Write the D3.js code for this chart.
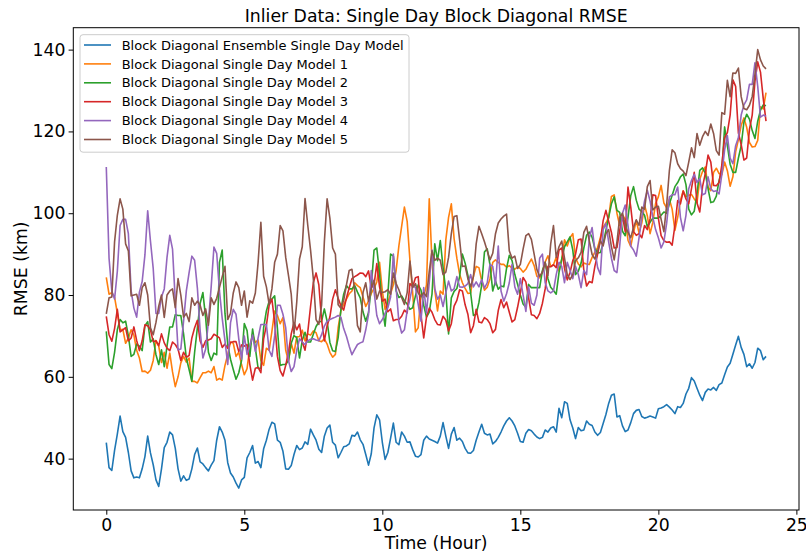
<!DOCTYPE html>
<html>
<head>
<meta charset="utf-8">
<script src="https://cdn.jsdelivr.net/npm/d3@7/dist/d3.min.js"></script>
<style>
  body { margin: 0; background: #fff; }
  svg { display: block; font-family: "DejaVu Sans", sans-serif; }
</style>
</head>
<body>
<div id="chart"></div>
<script>
// one reading every 0.1 hour, 0.0 .. 23.9
const hours = d3.range(240).map(i => i / 10);

const ensemble = [
  43.9, 37.8, 37.1, 42, 46.0, 50.4, 46.6, 45.2, 41.5, 37,
  35.3, 35.5, 35.3, 37.5, 40.5, 45.5, 41.4, 38.5, 34.8, 33.2,
  37.5, 42.7, 44, 46.5, 45.8, 42.5, 37.5, 34.5, 35.8, 34.7,
  35, 37.5, 41, 42.6, 39.2, 38.7, 37.8, 37, 38.4, 39.5,
  44.5, 47.8, 46.5, 44.5, 39, 36.5, 35.5, 34, 32.8, 34.8,
  35.4, 40.2, 41.5, 43.2, 38.9, 39.3, 37.8, 42.4, 44.5, 47.2,
  48.9, 48.5, 44.5, 44, 41.8, 37.5, 37.4, 38.3, 41, 43.2,
  42.2, 42.6, 44.1, 43.5, 47.2, 45.8, 44.5, 42.3, 41.5, 45.5,
  47.5, 48.2, 44, 43.3, 40.2, 41.5, 42.9, 43.1, 43.6, 45.7,
  45.5, 46.5, 44.6, 43.5, 41, 38.4, 41.2, 47.5, 50.7, 49.5,
  44, 39.8, 41.5, 45, 48.7, 44, 43.4, 46.5, 45.5, 44,
  44.1, 42.2, 40.6, 40.4, 41, 44.5, 45.5, 44.8, 44.5, 44.2,
  43.8, 45.5, 48.8, 45.5, 42.5, 46, 47.6, 44.5, 45, 44.2,
  42.5, 41.4, 41.3, 42, 44.5, 46.5, 48.4, 46.2, 45.8, 46,
  43.6, 44.2, 45.2, 46.5, 48, 49.2, 50, 49.2, 48, 46.2,
  44.2, 44, 46.2, 47.1, 46.8, 46, 45.3, 44.9, 45.2, 47,
  46.5, 47.5, 47.8, 46.5, 52.3, 50, 53.9, 53.5, 49.5, 47.5,
  44.9, 47.6, 46.8, 47, 49.2, 48.4, 48.1, 46.5, 45.7, 46.4,
  48.6, 50.8, 53.5, 55.5, 55.8, 50.2, 50.5, 48, 46.6, 47,
  48.8, 51, 51.8, 52, 50.3, 49.9, 50.1, 50.4, 50.2, 49.9,
  52.2, 52.4, 52.7, 53.2, 52.6, 51.9, 51, 52.7, 52.5, 53.5,
  55.8, 57.2, 59.8, 59, 57.2, 55.5, 54.2, 56.2, 57, 56.8,
  57.4, 56.7, 58.1, 58.5, 60.5, 62.4, 63.3, 65.5, 67.8, 69.9,
  67.2, 65.5, 62.5, 63.2, 62.1, 63.5, 67, 66.4, 64.2, 65
];

const model1 = [
  84.3, 80.2, 80.6, 79.5, 75.6, 71.5, 71.6, 68.2, 69.5, 71.5,
  70.2, 66.5, 64.6, 61.3, 61.4, 60.9, 61.6, 64, 68.9, 67.5,
  63.5, 66, 62.1, 65.8, 61.2, 57.6, 60, 63.4, 65, 63.6,
  64.6, 58.9, 58.9, 58.5, 59.8, 61, 61, 61.4, 61, 62.5,
  59.2, 59.6, 59.2, 62.8, 65.5, 68.5, 68.2, 65, 66, 63,
  60.5, 62, 67.3, 70.4, 68.4, 69, 64, 62.8, 67, 66.5,
  71.1, 76.1, 75, 73, 74.5, 66.5, 63.8, 68.2, 65.8, 69.8,
  69.8, 71.4, 68.8, 70.5, 70.2, 71.2, 70.8, 68.8, 68.6, 69.3,
  68, 66, 64.8, 65.5, 72, 76.2, 77.7, 79, 80.3, 81,
  83, 82.3, 81.8, 79.5, 77.2, 78.5, 80.4, 81.6, 83.2, 88,
  81, 76.5, 78.2, 80.3, 82.5, 86, 92, 96.8, 101.5, 98,
  88.5, 80.5, 71, 72, 80.2, 79.5, 82.5, 103.5, 88, 81.2,
  76.1, 81, 80.2, 93.5, 99, 102.3, 93.8, 89, 85.1, 83,
  81.6, 80.4, 80.5, 84.6, 87, 86.7, 83.5, 81.2, 81.9, 84,
  88, 88.6, 88, 87.5, 87.5, 86.8, 87.2, 86.6, 86.3, 86.9,
  86.5, 85.6, 86.3, 87.6, 88.8, 87.2, 84.6, 84.2, 85.6, 88.1,
  89.6, 87, 87.4, 89.2, 85.9, 88.7, 93.5, 92, 94, 95,
  89, 87.6, 86.9, 87.8, 87.6, 87.5, 89.2, 90.5, 91.6, 94.1,
  96.6, 97.6, 99, 104.1, 104.5, 100, 97, 99.6, 98.5, 93.4,
  91.9, 95.3, 98.2, 95.2, 97.6, 102, 99.4, 95, 97.8, 102.4,
  104, 106.8, 102.5, 101.3, 103.4, 101, 95.8, 99, 103.1, 105.5,
  104, 104.4, 104.6, 103.5, 102.6, 108.3, 110.2, 111.3, 106.4, 105.5,
  110, 111, 109.7, 109.4, 112.5, 110.4, 106.6, 108.9, 115, 118,
  121.5, 123.3, 121, 117.3, 116.2, 116.3, 117.8, 126, 125.5, 129.5
];

const model2 = [
  71.1, 63, 62, 66, 71.5, 74, 73.2, 73.6, 70, 65,
  65.5, 68, 67.5, 66.4, 72.5, 73.5, 68.5, 69.3, 65.4, 63,
  66.6, 62.5, 67.5, 72.2, 72.2, 75.2, 75, 75, 70.5, 64.6,
  61.8, 58.9, 66, 72, 78, 80.6, 74.4, 66, 64, 65.8,
  65.4, 88, 91, 75.5, 67.9, 64.3, 61.8, 59.4, 61, 64,
  73, 71.3, 65, 71.7, 67, 62.1, 62.1, 72, 76.1, 78.5,
  79, 79.8, 71.8, 62.8, 63, 63, 64, 68.2, 70.1, 69.6,
  64.6, 69, 70.9, 68.5, 68.5, 70.4, 72.3, 73.4, 73.6, 76.6,
  73.6, 68.4, 66.4, 66.2, 69.6, 76.5, 80.2, 82.3, 81.5, 81.5,
  82.3, 80.7, 79.3, 75.9, 73.6, 75.7, 82, 91, 91.5, 85.2,
  77, 72.4, 80, 90, 89.5, 81, 79.4, 79.8, 78.6, 77.8,
  76.5, 76.9, 79.8, 82.5, 81.2, 77.5, 74.6, 75.8, 80.2, 92.5,
  88.4, 93.3, 86.8, 81, 70.5, 79.3, 80.9, 81.6, 84.5, 90,
  87.8, 84.8, 80.5, 75, 75.3, 78.2, 82.5, 90.5, 91.3, 87.4,
  81, 83.4, 81.4, 82.2, 82, 86.5, 89.7, 88.4, 85, 82.6,
  80, 77.8, 77, 82.6, 81.8, 81.8, 81.8, 81.8, 86, 88,
  84, 81.9, 81.1, 80.2, 85.5, 88.8, 91.8, 93, 94.2, 91,
  85, 85.8, 87.8, 91.5, 94.6, 95.4, 94.1, 91.3, 90.3, 90.4,
  92.6, 95.8, 99, 102.3, 104, 100.7, 100.2, 95.6, 94.5, 99,
  104.3, 106.5, 103.2, 101, 100.4, 99.5, 96.7, 97.8, 98.8, 98.8,
  98.8, 99.5, 100.3, 100, 102.3, 104.4, 106.5, 107.5, 108.9, 109.6,
  107, 101, 99.6, 100.5, 104.8, 110.5, 111.1, 109.8, 106, 102.6,
  102.8, 104.2, 108, 110.3, 121.1, 116.5, 112, 110, 110, 113.5,
  116.5, 122.3, 124.2, 123, 120.2, 118.3, 122.5, 125.2, 126.5, 126.3
];

const model3 = [
  74.8, 70.3, 68.7, 71.8, 76.5, 71, 71.5, 72, 68.8, 69.5,
  72.2, 68.9, 66.4, 68.8, 72.7, 72.5, 71.5, 68.6, 68.8, 67.6,
  70.5, 68.3, 67, 66.4, 68.5, 67.9, 66.8, 64, 66, 64.8,
  65.2, 69.5, 72, 73.8, 68.8, 67.2, 68.8, 69, 69.3, 70.4,
  70, 69.5, 67.2, 68, 67, 68.4, 68.6, 68.6, 66.2, 67.8,
  67.5, 67.9, 63, 59.2, 62.1, 62.3, 61, 69.3, 72.6, 77.5,
  79, 73.4, 65, 61.5, 60.2, 62.8, 66, 70.5, 73.3, 71.5,
  72.9, 68.5, 66.5, 71, 77.2, 83, 85.4, 82.5, 73.8, 68.8,
  72.5, 74.6, 79, 81.3, 79.2, 77.4, 76.3, 79.3, 81.7, 84,
  84.5, 84.9, 85.4, 85.3, 84.5, 85.9, 81.8, 82.5, 87.7, 82,
  78.5, 79, 75.9, 76.6, 73.7, 74, 74, 74.8, 76.3, 75.6,
  82.8, 82, 84.2, 84.5, 75.2, 69.5, 74.6, 76.8, 75.8, 74,
  72.8, 72.7, 74.8, 73.9, 71.2, 73, 77.3, 78.7, 81.3, 81,
  77.6, 75.3, 70.8, 72.5, 76.5, 73.4, 73.2, 74.5, 74, 73,
  70.8, 71.6, 76.2, 78.9, 76.9, 78.3, 75.8, 73.4, 74, 77,
  80.5, 84.3, 83.2, 79.3, 75.2, 75, 74.2, 75.5, 78, 81.5,
  87, 86.9, 87.4, 86.7, 91, 91.5, 86.5, 83.7, 85.5, 88.4,
  90, 93.5, 93.7, 86, 82.2, 83.3, 83, 87, 90, 93.3,
  98.2, 100.7, 98, 95.3, 91.5, 91.6, 95.8, 99.3, 95.5, 106.4,
  101.5, 95.5, 94.6, 95, 94, 97, 96, 98.6, 104.5, 104.3,
  98.8, 94.5, 93.3, 92.9, 93, 92.2, 97, 103.1, 102.3, 105.4,
  103.5, 102.3, 106, 110, 102.5, 100.3, 106.5, 109.7, 114.2, 112.5,
  106.8, 106.7, 107.5, 111.8, 118.5, 119.7, 124, 132.6, 131, 119.6,
  116.8, 113, 113.5, 120.5, 124, 132.3, 137, 134.5, 128, 122.5
];

const model4 = [
  111.3, 89, 81, 79, 85.8, 97, 98.5, 98.5, 95, 81,
  76.8, 74.6, 80.7, 83.3, 89.8, 100.6, 93.2, 86.5, 75.5, 75.5,
  79.5, 81.5, 89.2, 94.6, 91.2, 78.5, 66.6, 66.8, 73.6, 81,
  85.5, 89.5, 88.5, 81.7, 71.3, 64.6, 66.8, 73.5, 82, 91.7,
  90.2, 81, 74.3, 68.8, 63, 73.2, 76.5, 75.3, 69.3, 64.3,
  70, 65.5, 67.5, 70.2, 66.2, 69.5, 72.8, 72.8, 72.8, 66.5,
  65, 70, 77.5, 77.5, 75.3, 72, 64, 61.3, 62.5, 66.5,
  69.3, 68.5, 67.9, 68.8, 69.2, 69.3, 69, 68.8, 70.3, 72.4,
  73.6, 74, 74.3, 74.6, 75, 74.6, 71.8, 69.9, 67.5, 65.4,
  66.7, 67.9, 68.3, 68.6, 71.5, 75.2, 86, 81, 75, 73,
  74, 75.5, 76.9, 79.5, 90, 81.8, 73.4, 70.7, 71.5, 76.2,
  79, 82.4, 81.8, 77.7, 73.6, 81.8, 75.6, 83, 91, 81.6,
  79, 80, 77.2, 80.6, 83.4, 81, 81.5, 84.5, 82, 81.9,
  82.2, 82.8, 85, 82, 83.2, 82, 83.8, 81.7, 83, 87.5,
  87, 82.5, 92, 81, 78.5, 80.3, 83, 87.5, 82, 80.2,
  84, 80, 76, 82, 78, 77.5, 80, 89, 90, 83,
  81, 80.5, 81, 85, 88, 87, 83, 88, 86, 84,
  87, 85, 81.8, 86, 85, 94, 96.5, 91, 86.7, 85,
  96, 97.5, 93, 89, 86, 85.5, 92, 100, 102, 97,
  92, 91, 89.5, 94, 99, 103, 105.6, 103, 99, 96,
  94, 91.5, 93, 97.5, 104, 104.5, 104.5, 106.4, 99, 95.7,
  99.5, 106, 108, 109.5, 107.5, 108.5, 104.5, 104.8, 108.9, 106,
  105.3, 105.5, 104.7, 109.5, 115.5, 119, 113.5, 112.1, 116.5, 118.5,
  124, 126.5, 127.7, 131.5, 131.5, 136.8, 131, 123.5, 124, 123.7
];

const model5 = [
  75.4, 79.3, 79.5, 93, 99.5, 103.5, 101, 92.5, 90.8, 79.8,
  80, 80.2, 77.5, 81.8, 83, 80, 72, 70.3, 73.3, 77.3,
  80, 74.5, 80, 81, 81.5, 76.9, 84, 80, 74.6, 75.5,
  73.5, 79.3, 77.5, 78.5, 77.5, 75, 76.6, 72.6, 79.3, 77.7,
  79.2, 81.8, 84.5, 87, 74, 75.5, 80.5, 83.2, 81.8, 77.5,
  81, 74.6, 78.6, 78, 80.5, 88, 97.8, 84.6, 82, 77.7,
  81.5, 88, 90, 97, 95.7, 89.2, 84.8, 80.2, 70.5, 78.3,
  88.8, 91.8, 103.6, 97, 91, 84, 74, 72.8, 77.5, 93,
  103.5, 98.8, 91.5, 90, 77.6, 76.8, 78.7, 82.5, 86, 86.3,
  81, 72.5, 71, 80.6, 83, 78.5, 81.6, 83.6, 79, 81,
  80.6, 80.8, 81.3, 80.2, 85.4, 82.8, 81.3, 79.4, 77.7, 80.6,
  88.3, 81.8, 82.8, 80.5, 79.6, 80.6, 79.6, 85.8, 90.8, 88.5,
  89, 88.5, 85, 85.6, 89.2, 95, 99.2, 99.4, 93.5, 87,
  87.1, 84, 82, 84.5, 92.5, 96.8, 95, 93, 90.8, 88.6,
  90.2, 95, 97.6, 98.6, 99.3, 99.8, 90.8, 89, 89.5, 86.5,
  87.5, 91.2, 94.5, 95, 93.6, 90, 86.2, 84.6, 85.6, 88,
  84.8, 92.5, 97, 89.2, 91.8, 93.2, 89, 85, 83.8, 85,
  88.4, 89.1, 90.4, 95.3, 96.8, 93.2, 89.9, 88.8, 90.8, 93.3,
  92, 95, 96, 91.8, 88.6, 93, 99, 100, 97, 95.3,
  94, 96.5, 98.4, 97, 101.5, 101, 106.5, 108, 100.8, 101.5,
  101.7, 98.5, 95.5, 102, 110.5, 115.5, 114.8, 112.1, 110.9, 110.3,
  109.2, 112.5, 116, 113.6, 119.5, 116.6, 118.7, 120, 119, 121.8,
  119.5, 115.3, 114.2, 124.6, 124.2, 132.5, 128.5, 134.3, 134.2, 135.5,
  128.5, 125.6, 125.3, 126.4, 128.5, 134, 140, 137.5, 136, 135.3
];

const seriesNames = [
  "Block Diagonal Ensemble Single Day Model",
  "Block Diagonal Single Day Model 1",
  "Block Diagonal Single Day Model 2",
  "Block Diagonal Single Day Model 3",
  "Block Diagonal Single Day Model 4",
  "Block Diagonal Single Day Model 5"
];
const seriesValues = [ensemble, model1, model2, model3, model4, model5];
const colors = ["#1f77b4", "#ff7f0e", "#2ca02c", "#d62728", "#9467bd", "#8c564b"];

const xTicks = [0, 5, 10, 15, 20, 25];
const yTicks = [40, 60, 80, 100, 120, 140];

const width = 806, height = 554;
const margin = { top: 27.7, right: 7, bottom: 44, left: 73.3 };

const svg = d3.select("#chart")
  .append("svg")
  .attr("width", width)
  .attr("height", height);

// matplotlib style 5% padding around the data
const xExt = d3.extent(hours);
const yExt = [d3.min(seriesValues, s => d3.min(s)), d3.max(seriesValues, s => d3.max(s))];
const xPad = (xExt[1] - xExt[0]) * 0.05;
const yPad = (yExt[1] - yExt[0]) * 0.05;

const x = d3.scaleLinear()
  .domain([xExt[0] - xPad, xExt[1] + xPad])
  .range([margin.left, width - margin.right]);
const y = d3.scaleLinear()
  .domain([yExt[0] - yPad, yExt[1] + yPad])
  .range([height - margin.bottom, margin.top]);

// lines
const line = d3.line()
  .x((d, i) => x(hours[i]))
  .y(d => y(d));

svg.append("g")
  .selectAll("path")
  .data(seriesValues)
  .join("path")
  .attr("d", line)
  .attr("fill", "none")
  .attr("stroke", (d, i) => colors[i])
  .attr("stroke-width", 1.6)
  .attr("stroke-linejoin", "round");

// axes
const xAxis = svg.append("g")
  .attr("transform", `translate(0,${height - margin.bottom})`)
  .call(d3.axisBottom(x).tickValues(xTicks).tickSize(4.7).tickPadding(4).tickFormat(d3.format("d")));
const yAxis = svg.append("g")
  .attr("transform", `translate(${margin.left},0)`)
  .call(d3.axisLeft(y).tickValues(yTicks).tickSize(4.7).tickPadding(3).tickFormat(d3.format("d")));

[xAxis, yAxis].forEach(ax => {
  ax.select(".domain").remove();
  ax.selectAll("text")
    .attr("font-family", "DejaVu Sans, sans-serif")
    .attr("font-size", 17.3)
    .attr("fill", "#000");
  ax.selectAll("line").attr("stroke", "#000").attr("stroke-width", 1);
});

// frame
svg.append("rect")
  .attr("x", margin.left)
  .attr("y", margin.top)
  .attr("width", width - margin.left - margin.right)
  .attr("height", height - margin.top - margin.bottom)
  .attr("fill", "none")
  .attr("stroke", "#000")
  .attr("stroke-width", 1);

// title + labels
svg.append("text")
  .attr("x", (margin.left + width - margin.right) / 2)
  .attr("y", 22)
  .attr("text-anchor", "middle")
  .attr("font-size", 17.3)
  .text("Inlier Data: Single Day Block Diagonal RMSE");

svg.append("text")
  .attr("x", (margin.left + width - margin.right) / 2)
  .attr("y", 549)
  .attr("text-anchor", "middle")
  .attr("font-size", 17.3)
  .text("Time (Hour)");

svg.append("text")
  .attr("transform", `translate(27,${(margin.top + height - margin.bottom) / 2}) rotate(-90)`)
  .attr("text-anchor", "middle")
  .attr("font-size", 17.3)
  .text("RMSE (km)");

// legend
const legend = svg.append("g").attr("transform", "translate(80,34.7)");
legend.append("rect")
  .attr("width", 329)
  .attr("height", 117.5)
  .attr("rx", 3)
  .attr("fill", "#fff")
  .attr("fill-opacity", 0.8)
  .attr("stroke", "#ccc")
  .attr("stroke-width", 1);

const rows = legend.selectAll("g.row")
  .data(seriesNames)
  .join("g")
  .attr("class", "row")
  .attr("transform", (d, i) => `translate(0,${10.3 + i * 18.9})`);

rows.append("line")
  .attr("x1", 4).attr("x2", 31)
  .attr("stroke", (d, i) => colors[i])
  .attr("stroke-width", 1.6);

rows.append("text")
  .attr("x", 41.7)
  .attr("dy", "0.36em")
  .attr("font-size", 13)
  .text(d => d);
</script>
</body>
</html>
